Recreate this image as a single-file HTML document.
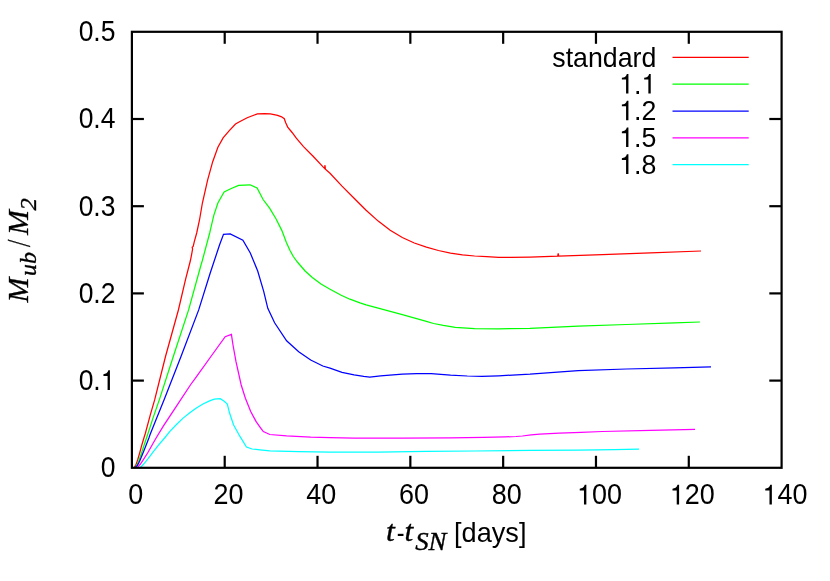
<!DOCTYPE html>
<html><head><meta charset="utf-8"><title>plot</title>
<style>html,body{margin:0;padding:0;background:#fff;}svg{display:block;will-change:transform;}text{font-family:"Liberation Sans",sans-serif;fill:#000;}.it{font-family:"Liberation Serif",serif;font-style:italic;}</style></head><body>
<svg width="830" height="581" viewBox="0 0 830 581">
<rect x="0" y="0" width="830" height="581" fill="#ffffff"/>
<polyline points="134.0,467.8 134.9,466.4 135.9,464.9 137.7,459.7 139.8,452.5 141.9,444.7 143.9,438 145.3,433.5 150.3,414.9 154.65,399.9 165.5,356.5 178.4,310 185.5,279.7 190.3,261 191.4,255.6 192.6,249 192.2,247.3 193.2,246.5 194.3,241.7 196.7,233 199.5,220 202.4,203.0 207.6,180.2 212.7,161.7 217.9,147.2 223.1,137.9 229.3,130.7 235.5,124.0 240,121.5 247.2,117.7 257.4,113.9 264.6,113.6 270.4,113.9 277.6,115.3 281.6,116.8 284.3,118.7 285.6,122.4 287.7,127.1 292.1,132.5 296.3,138.2 303.5,146.6 313.1,156.3 322.8,166.6 324.6,168.4 325.0,165.2 325.4,169.2 330,173.3 342.0,186.1 354.1,198.2 366.1,210.2 378.2,221.1 390.2,230.2 402.3,237.5 414.3,243.0 426.4,247.1 438.4,250.5 450.5,253.1 462.5,254.8 474.6,256.0 486.6,256.7 498.7,257.3 510.7,257.4 530,257.1 557.7,256.1 558.2,253.3 558.7,256.1 602.3,254.6 650.5,252.9 701.0,251.0" fill="none" stroke="#ff0000" stroke-width="1.25" stroke-linejoin="miter" stroke-linecap="butt"/>
<polyline points="134.5,467.8 135.4,466.7 136.7,465.4 138.8,460.7 141.4,453.5 143.9,445.7 146.5,438 150,427.4 152.8,418.6 159.3,399.9 173.3,356.5 188.6,309.9 201.0,265.0 202.2,261 209.7,233 210.4,229.8 213.8,215.4 217.9,203.0 224.1,192.0 231.3,188.5 238.6,185.4 250.1,184.8 257.1,188.0 263.1,199.5 269.6,208.2 276.1,219.0 281.9,230.6 286.3,242.2 289.9,250.2 293.3,256.5 297.8,262.5 305.1,271.0 312.3,277.5 321.0,284.0 329.6,289.0 341.2,295.3 349.9,299.2 360,302.9 366.1,304.9 378.2,308.1 402.3,314.6 426.4,321.3 433.6,323.5 443.3,325.4 455.3,327.3 474.6,328.6 498.7,328.8 530,328.3 578.2,326.1 626.4,324.5 674.6,322.9 699.9,322.0" fill="none" stroke="#00ff00" stroke-width="1.25" stroke-linejoin="miter" stroke-linecap="butt"/>
<polyline points="135.0,467.8 135.9,466.7 137.5,465.4 139.6,461.2 142.4,454.5 145.5,446.8 148.9,438 150,434.7 156.5,418.6 164.0,399.9 181.0,356.5 198.7,309.9 210.3,272.7 219.6,244.8 223.5,234.4 230.2,234.0 242.9,240.2 250.3,253.0 257.7,271.0 263.7,291.4 267.8,308.3 274.6,322.8 286.6,340.8 298.7,351.7 310.7,360.0 322.8,366.0 330,368.2 342.0,372.4 354.1,374.8 363.7,376.3 369.8,377.0 380.6,375.8 402.3,374.1 416.7,373.6 431.2,373.6 450.5,375.1 467.3,376.0 481.8,376.3 498.7,375.8 530,374.2 554.1,372.4 578.2,370.7 626.4,369.0 674.6,367.9 711.0,366.95" fill="none" stroke="#0000ff" stroke-width="1.25" stroke-linejoin="miter" stroke-linecap="butt"/>
<polyline points="136.7,467.8 138.3,466.4 140.3,464.3 143.4,459.7 147.6,453.0 151.7,445.7 156.1,438 163.3,426.1 176.5,406.2 190.4,385 196.5,376.7 212.0,355.0 225.2,336.7 231.4,334.3 233.0,345 236.0,361.7 241.2,385 245.4,398.3 250.7,411.5 256.0,421.4 260,427.1 263.3,431.6 269.8,434.5 286.6,435.9 310.7,437.1 330,437.6 354.1,438.2 402.3,438.2 450.5,437.8 483.4,437.3 505.1,436.9 516,436.5 522.4,436.0 531.1,434.9 539.8,434.1 559.3,433.2 581.0,432.3 602.3,431.5 650.5,430.4 695.0,429.35" fill="none" stroke="#ff00ff" stroke-width="1.25" stroke-linejoin="miter" stroke-linecap="butt"/>
<polyline points="139.3,467.8 141.4,466.4 143.9,463.8 148.1,458.7 153.2,451.9 158.9,444.7 164.6,438 169.9,431.4 176.5,424.5 183.1,418.1 189.8,412.8 196.4,407.9 203.0,404.0 209.6,400.9 214.3,399.2 220.2,398.7 224.2,401.2 227.3,404.0 229.5,412.8 233.5,424.8 240.1,436.7 246.5,447.0 252.1,449.0 260,449.9 269.8,450.8 298.7,451.6 330,452.1 378.2,452.2 426.4,451.4 474.6,451.0 530,450.4 578.2,450.2 614.3,449.6 639.0,449.1" fill="none" stroke="#00ffff" stroke-width="1.25" stroke-linejoin="miter" stroke-linecap="butt"/>
<line x1="672.5" y1="57.4" x2="748.7" y2="57.4" stroke="#ff0000" stroke-width="1.25"/>
<line x1="672.5" y1="84.2" x2="748.7" y2="84.2" stroke="#00ff00" stroke-width="1.25"/>
<line x1="672.5" y1="111.0" x2="748.7" y2="111.0" stroke="#0000ff" stroke-width="1.25"/>
<line x1="672.5" y1="137.8" x2="748.7" y2="137.8" stroke="#ff00ff" stroke-width="1.25"/>
<line x1="672.5" y1="164.6" x2="748.7" y2="164.6" stroke="#00ffff" stroke-width="1.25"/>
<g stroke="#000" stroke-width="2.2" stroke-linecap="butt" fill="none">
<line x1="224.71" y1="467.8" x2="224.71" y2="455.8"/>
<line x1="224.71" y1="31.8" x2="224.71" y2="43.8"/>
<line x1="317.53" y1="467.8" x2="317.53" y2="455.8"/>
<line x1="317.53" y1="31.8" x2="317.53" y2="43.8"/>
<line x1="410.34" y1="467.8" x2="410.34" y2="455.8"/>
<line x1="410.34" y1="31.8" x2="410.34" y2="43.8"/>
<line x1="503.16" y1="467.8" x2="503.16" y2="455.8"/>
<line x1="503.16" y1="31.8" x2="503.16" y2="43.8"/>
<line x1="595.97" y1="467.8" x2="595.97" y2="455.8"/>
<line x1="595.97" y1="31.8" x2="595.97" y2="43.8"/>
<line x1="688.79" y1="467.8" x2="688.79" y2="455.8"/>
<line x1="688.79" y1="31.8" x2="688.79" y2="43.8"/>
<line x1="131.9" y1="380.60" x2="143.9" y2="380.60"/>
<line x1="781.6" y1="380.60" x2="769.3000000000001" y2="380.60"/>
<line x1="131.9" y1="293.40" x2="143.9" y2="293.40"/>
<line x1="781.6" y1="293.40" x2="769.3000000000001" y2="293.40"/>
<line x1="131.9" y1="206.20" x2="143.9" y2="206.20"/>
<line x1="781.6" y1="206.20" x2="769.3000000000001" y2="206.20"/>
<line x1="131.9" y1="119.00" x2="143.9" y2="119.00"/>
<line x1="781.6" y1="119.00" x2="769.3000000000001" y2="119.00"/>
<rect x="131.9" y="31.8" width="649.70" height="436.00"/>
</g>
<g font-size="27.67">
<text transform="translate(115.45 477.15) scale(0.957 1.065)" text-anchor="end">0</text>
<g transform="translate(115.45 389.95) scale(0.957 1.065)"><text x="-38.46" y="0">0.</text><path d="M347 0 L259 0 L259 505 L102 505 L102 568 C185 574 262 606 289 709 L347 709 Z" transform="translate(-15.38 0) scale(0.02767 -0.02598)" fill="#000"/></g>
<text transform="translate(115.45 302.75) scale(0.957 1.065)" text-anchor="end">0.2</text>
<text transform="translate(115.45 215.55) scale(0.957 1.065)" text-anchor="end">0.3</text>
<text transform="translate(115.45 128.35) scale(0.957 1.065)" text-anchor="end">0.4</text>
<text transform="translate(115.45 41.15) scale(0.957 1.065)" text-anchor="end">0.5</text>
<text transform="translate(135.70 504.45) scale(0.975 1.06)" text-anchor="middle">0</text>
<text transform="translate(228.46 504.45) scale(0.975 1.06)" text-anchor="middle">20</text>
<text transform="translate(321.21 504.45) scale(0.975 1.06)" text-anchor="middle">40</text>
<text transform="translate(413.97 504.45) scale(0.975 1.06)" text-anchor="middle">60</text>
<text transform="translate(506.73 504.45) scale(0.975 1.06)" text-anchor="middle">80</text>
<g transform="translate(599.49 504.45) scale(0.975 1.06)"><path d="M347 0 L259 0 L259 505 L102 505 L102 568 C185 574 262 606 289 709 L347 709 Z" transform="translate(-23.08 0) scale(0.02767 -0.02610)" fill="#000"/><text x="-7.69" y="0">00</text></g>
<g transform="translate(692.24 504.45) scale(0.975 1.06)"><path d="M347 0 L259 0 L259 505 L102 505 L102 568 C185 574 262 606 289 709 L347 709 Z" transform="translate(-23.08 0) scale(0.02767 -0.02610)" fill="#000"/><text x="-7.69" y="0">20</text></g>
<g transform="translate(785.00 504.45) scale(0.975 1.06)"><path d="M347 0 L259 0 L259 505 L102 505 L102 568 C185 574 262 606 289 709 L347 709 Z" transform="translate(-23.08 0) scale(0.02767 -0.02610)" fill="#000"/><text x="-7.69" y="0">40</text></g>
<text transform="translate(656.30 66.70) scale(0.966 1.02)" text-anchor="end">standard</text>
<g transform="translate(656.30 93.50) scale(0.966 1.02)"><path d="M347 0 L259 0 L259 505 L102 505 L102 568 C185 574 262 606 289 709 L347 709 Z" transform="translate(-38.46 0) scale(0.02767 -0.02713)" fill="#000"/><text x="-23.08" y="0">.</text><path d="M347 0 L259 0 L259 505 L102 505 L102 568 C185 574 262 606 289 709 L347 709 Z" transform="translate(-15.38 0) scale(0.02767 -0.02713)" fill="#000"/></g>
<g transform="translate(656.30 120.30) scale(0.966 1.02)"><path d="M347 0 L259 0 L259 505 L102 505 L102 568 C185 574 262 606 289 709 L347 709 Z" transform="translate(-38.46 0) scale(0.02767 -0.02713)" fill="#000"/><text x="-23.08" y="0">.2</text></g>
<g transform="translate(656.30 147.10) scale(0.966 1.02)"><path d="M347 0 L259 0 L259 505 L102 505 L102 568 C185 574 262 606 289 709 L347 709 Z" transform="translate(-38.46 0) scale(0.02767 -0.02713)" fill="#000"/><text x="-23.08" y="0">.5</text></g>
<g transform="translate(656.30 173.90) scale(0.966 1.02)"><path d="M347 0 L259 0 L259 505 L102 505 L102 568 C185 574 262 606 289 709 L347 709 Z" transform="translate(-38.46 0) scale(0.02767 -0.02713)" fill="#000"/><text x="-23.08" y="0">.8</text></g>
<text transform="translate(27.85 302.40) rotate(-90) scale(0.996 0.990)" style='font-family:"Liberation Serif",serif;font-style:italic;' font-size="30" stroke="#000" stroke-width="0.35">M</text>
<text transform="translate(36.22 276.04) rotate(-90) scale(1.037 0.970)" style='font-family:"Liberation Serif",serif;font-style:italic;' font-size="23" stroke="#000" stroke-width="0.35">ub</text>
<text transform="translate(30.45 246.36) rotate(-90) scale(0.629 1.107)" style='font-family:"Liberation Serif",serif;font-style:italic;' font-size="30" stroke="#000" stroke-width="0.35">/</text>
<text transform="translate(27.65 235.00) rotate(-90) scale(0.996 0.980)" style='font-family:"Liberation Serif",serif;font-style:italic;' font-size="30" stroke="#000" stroke-width="0.35">M</text>
<text transform="translate(35.95 210.43) rotate(-90) scale(1.078 1.000)" style='font-family:"Liberation Serif",serif;font-style:italic;' font-size="23" stroke="#000" stroke-width="0.35">2</text>
<text transform="translate(386.08 541.11) scale(1.058 0.977)" style='font-family:"Liberation Serif",serif;font-style:italic;' font-size="30" stroke="#000" stroke-width="0.35">t</text>
<text transform="translate(396.74 542.19) scale(0.844 1.022)" style='font-family:"Liberation Sans",sans-serif;' font-size="27.67">-</text>
<text transform="translate(404.39 541.11) scale(1.045 0.977)" style='font-family:"Liberation Serif",serif;font-style:italic;' font-size="30" stroke="#000" stroke-width="0.35">t</text>
<text transform="translate(415.20 549.52) scale(1.164 1.110)" style='font-family:"Liberation Serif",serif;font-style:italic;' font-size="23" stroke="#000" stroke-width="0.35">SN</text>
<text transform="translate(454.04 541.58) scale(0.981 0.994)" style='font-family:"Liberation Sans",sans-serif;' font-size="27.67">[days]</text>
</g>
</svg></body></html>
